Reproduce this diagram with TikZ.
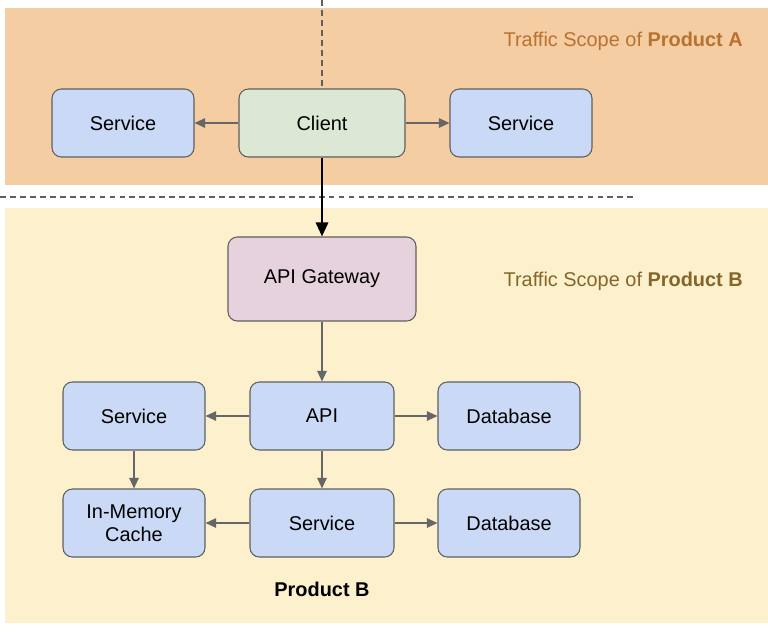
\documentclass[tikz,border=0pt]{standalone}
\usepackage{fontspec}
\setmainfont{Liberation Sans}
\usetikzlibrary{arrows.meta}
\definecolor{bandA}{HTML}{F4CDA3}
\definecolor{bandB}{HTML}{FDF0CD}
\definecolor{boxblue}{HTML}{CADAF6}
\definecolor{boxgreen}{HTML}{DCE8D3}
\definecolor{boxpink}{HTML}{E6D2DD}
\definecolor{boxline}{HTML}{5F5F5F}
\definecolor{arrowgray}{HTML}{666666}
\definecolor{scopeA}{HTML}{B9712F}
\definecolor{scopeB}{HTML}{836628}

\begin{document}
\begin{tikzpicture}[x=0.03cm, y=-0.03cm,
box/.style={draw=boxline, line width=0.9pt, rounded corners=8pt, fill=boxblue,
  minimum width=4.26cm, minimum height=2.04cm, inner sep=0pt, align=center,
  font=\fontsize{17}{20}\selectfont},
link/.style={draw=arrowgray, line width=1.3pt, -{Triangle[length=9pt, width=8pt]}},
mainlink/.style={draw=black, line width=2pt, -{Triangle[length=12pt, width=10.5pt]}},
border/.style={draw=boxline, line width=0.9pt, dash pattern=on 5pt off 3.5pt},
scopelabel/.style={anchor=east, inner sep=0pt, font=\fontsize{17}{20}\selectfont}]
\useasboundingbox (0,0) rectangle (768,631);

% traffic scopes
\fill [bandA] (5,8) rectangle (768,185);
\fill [bandB] (5,208) rectangle (768,623);
\node [scopelabel, text=scopeA] (scopeA) at (743,41) {Traffic Scope of \textbf{Product A}};
\node [scopelabel, text=scopeB] (scopeB) at (743,281) {Traffic Scope of \textbf{Product B}};

% product A
\node [box, fill=boxgreen, minimum width=4.98cm] (client) at (322,123) {Client};
\node [box] (svcAl) at (123,123) {Service};
\node [box] (svcAr) at (521,123) {Service};

% product B
\node [box, fill=boxpink, minimum width=5.64cm, minimum height=2.52cm] (gateway) at (322,279) {API Gateway};
\node [box, minimum width=4.32cm] (api) at (322,416) {API};
\node [box] (svcB) at (134,416) {Service};
\node [box] (dbA) at (509,416) {Database};
\node [box] (cache) at (134,523) {In-Memory\\Cache};
\node [box, minimum width=4.32cm] (svcC) at (322,523) {Service};
\node [box] (dbB) at (509,523) {Database};
\node [font=\fontsize{17}{20}\selectfont\bfseries] (prodB) at (322,589) {Product B};

% boundaries
\coordinate (top) at (322,0);
\coordinate (sepL) at (0,197);
\coordinate (sepR) at (637,197);
\draw [border] (top) -- (client.north);
\draw [border] (sepL) -- (sepR);

% connectors
\draw [link] (client) -- (svcAl);
\draw [link] (client) -- (svcAr);
\draw [mainlink] (client) -- (gateway);
\draw [link] (gateway) -- (api);
\draw [link] (api) -- (svcB);
\draw [link] (api) -- (dbA);
\draw [link] (api) -- (svcC);
\draw [link] (svcB) -- (cache);
\draw [link] (svcC) -- (cache);
\draw [link] (svcC) -- (dbB);
\end{tikzpicture}
\end{document}
